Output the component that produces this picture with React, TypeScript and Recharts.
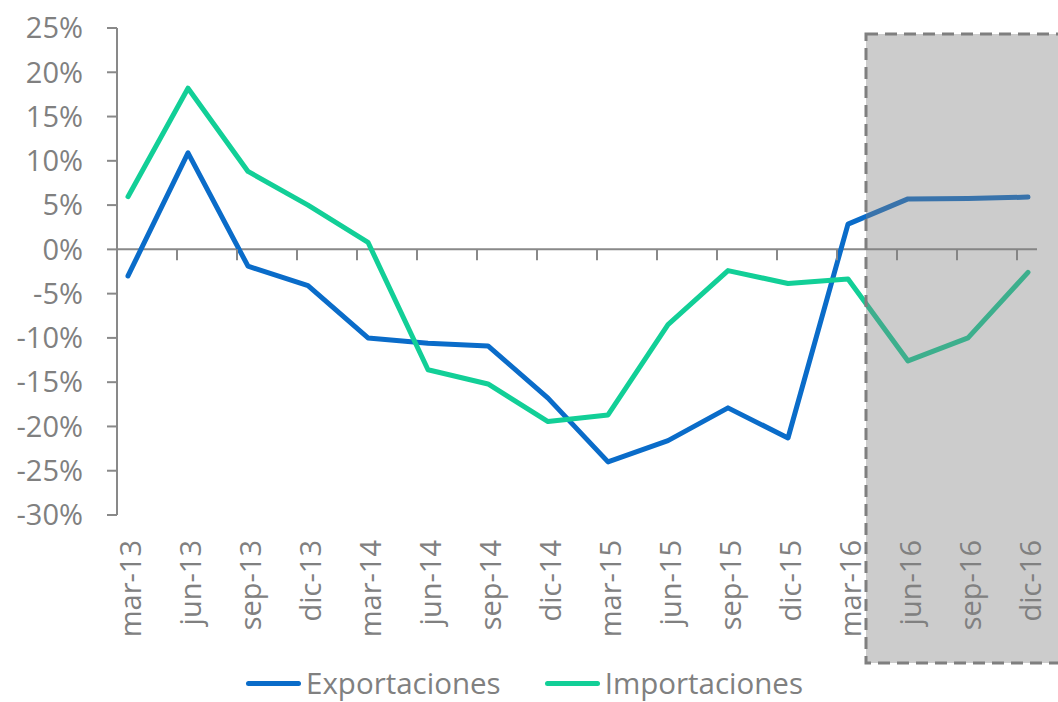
import { Legend, Line, LineChart, ReferenceLine, XAxis, YAxis } from "recharts";

const periods = [
  "mar-13", "jun-13", "sep-13", "dic-13",
  "mar-14", "jun-14", "sep-14", "dic-14",
  "mar-15", "jun-15", "sep-15", "dic-15",
  "mar-16", "jun-16", "sep-16", "dic-16",
];
const exportaciones = [-3.0, 10.9, -1.9, -4.1, -10.0, -10.6, -10.9, -16.8, -24.0, -21.6, -17.9, -21.3, 2.85, 5.7, 5.75, 5.9];
const importaciones = [5.95, 18.2, 8.8, 5.0, 0.8, -13.6, -15.2, -19.45, -18.7, -8.5, -2.4, -3.85, -3.35, -12.6, -10.0, -2.6];
const yTicks = [-30, -25, -20, -15, -10, -5, 0, 5, 10, 15, 20, 25];

const data = periods.map((p, i) => ({
  period: p,
  Exportaciones: exportaciones[i],
  Importaciones: importaciones[i],
}));

const W = 1058;
const H = 702;
const TOP = 28;
const PLOT_H = 487;
const Y_MIN = -30;
const Y_MAX = 25;
const ZERO_Y = TOP + (Y_MAX / (Y_MAX - Y_MIN)) * PLOT_H;
const LEGEND_H = 38;

const AXIS = "#898989";
const TEXT = "#808080";
const BLUE = "#0A6CC9";
const GREEN = "#12CF97";
const FONT = "'Open Sans', sans-serif";

function XTick(props: any) {
  const { x, y, payload } = props;
  return (
    <g>
      <line x1={x - 11} x2={x - 11} y1={ZERO_Y} y2={ZERO_Y + 11} stroke={AXIS} strokeWidth={2} />
      <text
        transform={`translate(${x + 13},${y + 25}) rotate(-90)`}
        textAnchor="end"
        fill={TEXT}
        fontSize={29}
        fontFamily={FONT}
      >
        {payload.value}
      </text>
    </g>
  );
}

function LegendContent() {
  const items = [
    { name: "Exportaciones", color: BLUE },
    { name: "Importaciones", color: GREEN },
  ];
  return (
    <div
      style={{
        boxSizing: "border-box",
        height: LEGEND_H,
        display: "flex",
        justifyContent: "center",
        alignItems: "center",
        gap: 44,
        fontFamily: FONT,
        fontSize: 29.5,
        color: TEXT,
        paddingLeft: 12,
      }}
    >
      {items.map((it) => (
        <div key={it.name} style={{ display: "flex", alignItems: "center", gap: 5 }}>
          <div style={{ width: 55, height: 5, borderRadius: 3, background: it.color }} />
          <span style={{ lineHeight: "38px", whiteSpace: "nowrap" }}>{it.name}</span>
        </div>
      ))}
    </div>
  );
}

export default function App() {
  return (
    <div style={{ position: "absolute", left: 0, top: 0, width: W, height: H, background: "#fff", overflow: "hidden" }}>
      <LineChart width={W} height={H} data={data} margin={{ top: TOP, right: 21, left: 0, bottom: 0 }}>
        <XAxis
          dataKey="period"
          axisLine={false}
          tickLine={false}
          tickSize={0}
          tickMargin={0}
          interval={0}
          height={H - TOP - PLOT_H - LEGEND_H}
          padding={{ left: 11, right: 9 }}
          tick={<XTick />}
        />
        <YAxis
          domain={[Y_MIN, Y_MAX]}
          ticks={yTicks}
          interval={0}
          width={117}
          tickSize={10}
          tickMargin={24}
          axisLine={{ stroke: AXIS, strokeWidth: 2 }}
          tickLine={{ stroke: AXIS, strokeWidth: 2 }}
          tick={{ fill: TEXT, fontSize: 29, fontFamily: FONT }}
          tickFormatter={(v) => `${v}%`}
        />
        <ReferenceLine y={0} stroke={AXIS} strokeWidth={2} />
        <Line
          type="linear"
          dataKey="Exportaciones"
          stroke={BLUE}
          strokeWidth={5}
          strokeLinecap="round"
          strokeLinejoin="round"
          dot={false}
          isAnimationActive={false}
        />
        <Line
          type="linear"
          dataKey="Importaciones"
          stroke={GREEN}
          strokeWidth={5}
          strokeLinecap="round"
          strokeLinejoin="round"
          dot={false}
          isAnimationActive={false}
        />
        <Legend verticalAlign="bottom" height={LEGEND_H} content={<LegendContent />} />
      </LineChart>
      {/* projection window */}
      <svg style={{ position: "absolute", left: 0, top: 0, pointerEvents: "none" }} width={W} height={H}>
        <rect x={866} y={34} width={220} height={629} fill="#808080" fillOpacity={0.4} />
        <rect x={866} y={34} width={220} height={629} fill="none" stroke="#7f7f7f" strokeWidth={3} strokeDasharray="12 7" />
      </svg>
    </div>
  );
}
